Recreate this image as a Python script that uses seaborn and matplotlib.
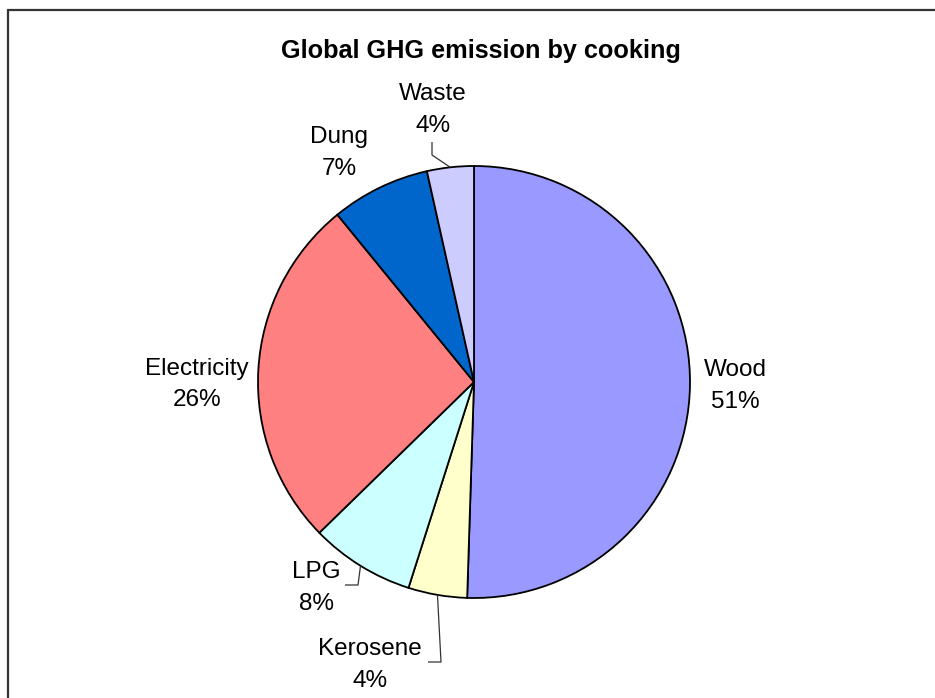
import numpy as np
import matplotlib
matplotlib.use("Agg")
import matplotlib.pyplot as plt
from matplotlib.lines import Line2D
import seaborn as sns

# Share of global cooking-related GHG emissions by fuel (percent)
fuels = ["Wood", "Kerosene", "LPG", "Electricity", "Dung", "Waste"]
shares = [50.51, 4.4, 7.8, 26.4, 7.4, 3.5]
colors = ["#9999FF", "#FFFFCC", "#CCFFFF", "#FF8080", "#0066CC", "#CCCCFF"]
title = "Global GHG emission by cooking"

sns.set_theme(style="white")
plt.rcParams["font.family"] = ["Liberation Sans", "DejaVu Sans"]

W, H = 935, 698
fig = plt.figure(figsize=(W / 100, H / 100), dpi=100)
ax = fig.add_axes([0, 0, 1, 1])


def Y(y):
    """Convert a top-down pixel row into the axes' bottom-up coordinate."""
    return H - y


cx, cy, r = 474, Y(382), 216
wedges, _ = ax.pie(
    shares,
    colors=colors,
    startangle=90,
    counterclock=False,
    center=(cx, cy),
    radius=r,
    wedgeprops=dict(edgecolor="black", linewidth=1.3),
)
ax.set_xlim(0, W)
ax.set_ylim(0, H)
ax.set_aspect("equal")
ax.axis("off")

# label baselines (name line, percent line) and centre x for each slice
label_pos = {
    "Wood": (735, 376, 408),
    "Kerosene": (370, 655, 687),
    "LPG": (316, 578, 610),
    "Electricity": (197, 375, 406),
    "Dung": (339, 143, 175),
    "Waste": (433, 100, 132),
}
fs = 17.5
for name, val in zip(fuels, shares):
    x, yb1, yb2 = label_pos[name]
    ax.text(x, Y(yb1), name, ha="center", va="baseline", fontsize=fs, color="black")
    ax.text(x, Y(yb2), f"{val:.0f}%", ha="center", va="baseline", fontsize=fs, color="black")


def edge_point(w):
    mid = np.deg2rad((w.theta1 + w.theta2) / 2)
    return cx + r * np.cos(mid), cy + r * np.sin(mid)


# leader lines for the small slices: from slice rim to the label
leaders = {
    "Waste": [(432, 155), (432, 142)],
    "Kerosene": [(441, 662), (428, 662)],
    "LPG": [(358, 585), (345, 585)],
}
for name, pts in leaders.items():
    w = wedges[fuels.index(name)]
    x0, y0 = edge_point(w)
    xs = [x0] + [p[0] for p in pts]
    ys = [y0] + [Y(p[1]) for p in pts]
    ax.plot(xs, ys, color="#333333", linewidth=0.9, solid_capstyle="butt")

ax.text(481, Y(51), title, ha="center", va="center", fontsize=18.2,
        fontweight="bold", color="black")

# chart area border (top and left edges)
fig.add_artist(Line2D([8 / W, 1], [1 - 10 / H, 1 - 10 / H], color="#333333",
                      linewidth=1.6, transform=fig.transFigure))
fig.add_artist(Line2D([8 / W, 8 / W], [0, 1 - 10 / H], color="#333333",
                      linewidth=1.6, transform=fig.transFigure))

fig.savefig("out.png", dpi=100, facecolor="white")
